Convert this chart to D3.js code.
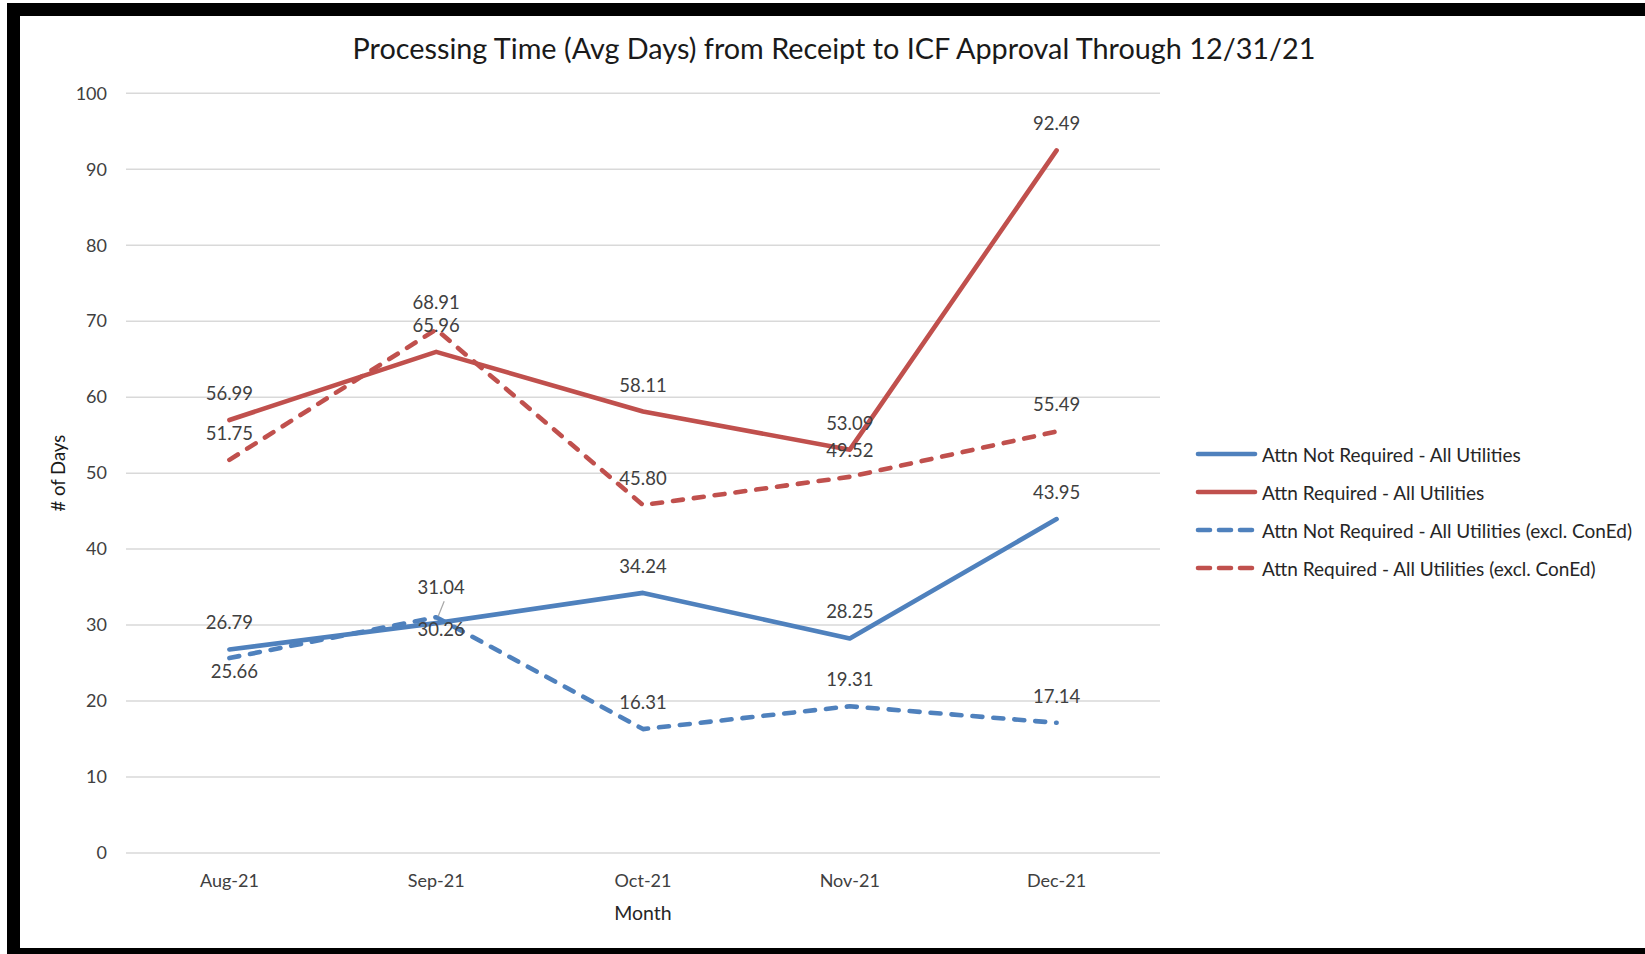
<!DOCTYPE html>
<html><head><meta charset="utf-8">
<script src="https://cdn.jsdelivr.net/npm/d3@7"></script>
<style>html,body{margin:0;padding:0;background:#fff;}svg{display:block;}</style>
</head><body><svg id="c" width="1645" height="954"></svg>
<script>
const months = ["Aug-21","Sep-21","Oct-21","Nov-21","Dec-21"];
const attnNotReqAll = [26.79, 30.26, 34.24, 28.25, 43.95];
const attnReqAll = [56.99, 65.96, 58.11, 53.09, 92.49];
const attnNotReqExcl = [25.66, 31.04, 16.31, 19.31, 17.14];
const attnReqExcl = [51.75, 68.91, 45.80, 49.52, 55.49];
const seriesNames = ["Attn Not Required - All Utilities","Attn Required - All Utilities","Attn Not Required - All Utilities (excl. ConEd)","Attn Required - All Utilities (excl. ConEd)"];
const yTicks = [0,10,20,30,40,50,60,70,80,90,100];
const title = "Processing Time (Avg Days) from Receipt to ICF Approval Through 12/31/21";

const BLUE = "#4F81BD", RED = "#C0504D";
const series = [
  {name: seriesNames[0], values: attnNotReqAll, color: BLUE, dash: null},
  {name: seriesNames[1], values: attnReqAll, color: RED, dash: null},
  {name: seriesNames[2], values: attnNotReqExcl, color: BLUE, dash: "10,11"},
  {name: seriesNames[3], values: attnReqExcl, color: RED, dash: "10,11"}
];
// label placement tweaks (style, not data): [seriesIndex][pointIndex] -> {dx, dy}
const labelTweaks = {"0-1": {dx:5, dy:6}, "2-0": {dx:5, dy:13}, "2-1": {dx:5, dy:-30, leader:true}};

const svg = d3.select("#c");
const FONT = "Lato, 'Open Sans', sans-serif";
const m = {left:126, right:1160, top:93.3, bottom:853};
const x = d3.scaleBand().domain(months).range([m.left, m.right]);
const y = d3.scaleLinear().domain([0,100]).range([m.bottom, m.top]);
const cx = d => x(d) + x.bandwidth()/2;

// gridlines
svg.append("g").selectAll("line").data(yTicks).join("line")
  .attr("x1", m.left).attr("x2", m.right)
  .attr("y1", d => y(d)).attr("y2", d => y(d))
  .attr("stroke", "#D9D9D9").attr("stroke-width", 1.5);

// y axis labels
const yAxis = svg.append("g").attr("transform", `translate(${m.left},0)`)
  .call(d3.axisLeft(y).tickValues(yTicks).tickSize(0).tickPadding(19));
yAxis.select(".domain").remove();
yAxis.selectAll("text").attr("font-family", FONT).attr("font-size", 18).attr("fill", "#404040");

// x axis labels
const xAxis = svg.append("g").attr("transform", `translate(0,${m.bottom})`)
  .call(d3.axisBottom(x).tickSize(0).tickPadding(21));
xAxis.select(".domain").remove();
xAxis.selectAll("text").attr("font-family", FONT).attr("font-size", 18).attr("fill", "#404040");

// lines
const line = d3.line().x((d,i) => cx(months[i])).y(d => y(d));
series.forEach(s => {
  svg.append("path").datum(s.values).attr("d", line)
    .attr("fill", "none").attr("stroke", s.color).attr("stroke-width", 4.6)
    .attr("stroke-linejoin", "round").attr("stroke-linecap", "round")
    .attr("stroke-dasharray", s.dash);
});

// data labels
series.forEach((s, si) => {
  s.values.forEach((v, i) => {
    const t = labelTweaks[si + "-" + i];
    const px = cx(months[i]), py = y(v);
    let lx = px, ly = py - 27;
    if (t) { lx = px + t.dx; ly = py + t.dy; }
    if (t && t.leader) {
      svg.append("line").attr("x1", px + 8).attr("y1", ly + 14).attr("x2", px + 2).attr("y2", py - 1)
        .attr("stroke", "#A6A6A6").attr("stroke-width", 1.2);
    }
    svg.append("text").attr("x", lx).attr("y", ly).attr("text-anchor", "middle")
      .attr("dominant-baseline", "central").attr("font-family", FONT).attr("font-size", 18.5)
      .attr("fill", "#404040").text(v.toFixed(2));
  });
});

// title
svg.append("text").attr("x", 834).attr("y", 48).attr("text-anchor", "middle")
  .attr("dominant-baseline", "central").attr("font-family", FONT).attr("font-size", 28.8)
  .attr("fill", "#1a1a1a").text(title);

// axis titles
svg.append("text").attr("transform", `translate(58,${(m.top+m.bottom)/2}) rotate(-90)`)
  .attr("text-anchor", "middle").attr("dominant-baseline", "central")
  .attr("font-family", FONT).attr("font-size", 18.5).attr("fill", "#1a1a1a").text("# of Days");
svg.append("text").attr("x", (m.left+m.right)/2).attr("y", 912).attr("text-anchor", "middle")
  .attr("dominant-baseline", "central").attr("font-family", FONT).attr("font-size", 19.5)
  .attr("fill", "#262626").text("Month");

// legend
const lg = svg.append("g");
series.forEach((s, i) => {
  const ly = 454 + i * 38;
  lg.append("line").attr("x1", 1198).attr("x2", 1255).attr("y1", ly).attr("y2", ly)
    .attr("stroke", s.color).attr("stroke-width", 4.6).attr("stroke-linecap", "round")
    .attr("stroke-dasharray", s.dash ? "12,9" : null);
  lg.append("text").attr("x", 1262).attr("y", ly).attr("dominant-baseline", "central")
    .attr("font-family", FONT).attr("font-size", 19).attr("fill", "#262626").text(s.name);
});

// frame
svg.append("rect").attr("x", 13.5).attr("y", 9.5).attr("width", 1700).attr("height", 945)
  .attr("fill", "none").attr("stroke", "#000").attr("stroke-width", 13);
</script></body></html>
